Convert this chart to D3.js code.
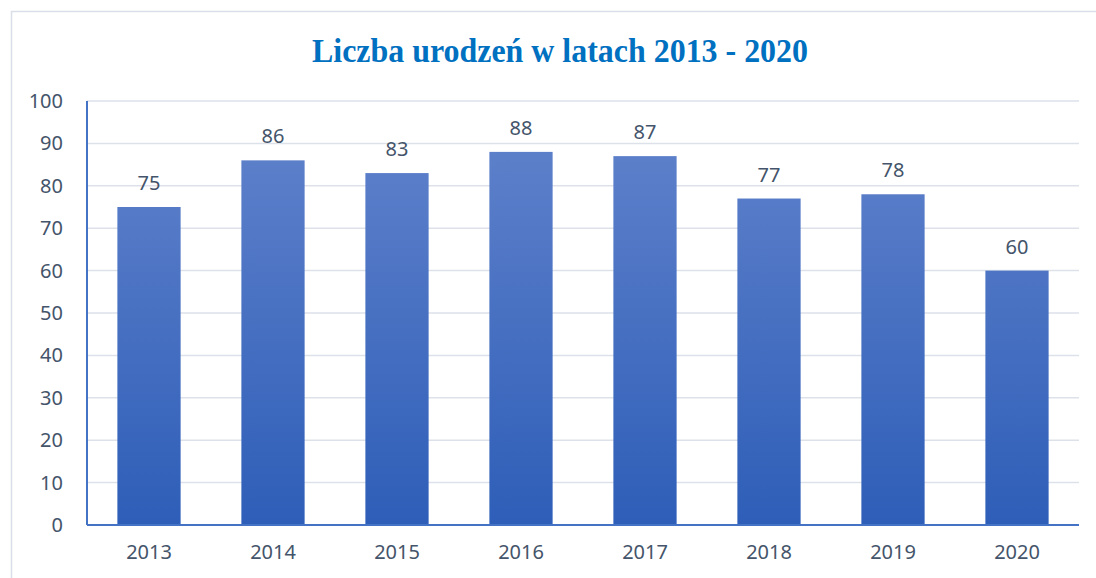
<!DOCTYPE html>
<head>
<meta charset="utf-8">
<script src="https://d3js.org/d3.v7.min.js"></script>
<style>
  body { margin: 0; background: #fff; }
  text { font-family: "Noto Sans", sans-serif; }
</style>
</head>
<body>
<div id="datavis"></div>

<script type="text/javascript">
    // data
    var years = ["2013", "2014", "2015", "2016", "2017", "2018", "2019", "2020"];
    var births = [75, 86, 83, 88, 87, 77, 78, 60];
    var yTicks = [0, 10, 20, 30, 40, 50, 60, 70, 80, 90, 100];
    var title = "Liczba urodzeń w latach 2013 - 2020";

    var W = 1096, H = 578;
    var margin = {top: 101, right: 17, bottom: 53, left: 87},
        width = W - margin.left - margin.right,
        height = H - margin.top - margin.bottom;

    var svgRoot = d3.select("#datavis")
                .append("svg")
                .attr("width", W)
                .attr("height", H);

    // outer chart border (right/bottom run past the picture)
    svgRoot.append("rect")
        .attr("x", 11.5).attr("y", 11.5)
        .attr("width", W + 20).attr("height", H + 20)
        .attr("fill", "none")
        .attr("stroke", "#d9dee8")
        .attr("stroke-width", 1.5);

    var defs = svgRoot.append("defs");
    var grad = defs.append("linearGradient")
        .attr("id", "barGrad")
        .attr("gradientUnits", "userSpaceOnUse")
        .attr("x1", 0).attr("x2", 0)
        .attr("y1", 0).attr("y2", height);
    grad.append("stop").attr("offset", "0%").attr("stop-color", "#6384cc");
    grad.append("stop").attr("offset", "100%").attr("stop-color", "#2e5eb8");

    // title
    svgRoot.append("text")
        .attr("x", 560)
        .attr("y", 62)
        .attr("text-anchor", "middle")
        .attr("textLength", 496)
        .attr("lengthAdjust", "spacingAndGlyphs")
        .style("font-family", "'Liberation Serif', 'Times New Roman', serif")
        .style("font-weight", "bold")
        .style("font-size", "33px")
        .style("fill", "#0070c0")
        .text(title);

    var svg = svgRoot.append("g")
        .attr("transform", "translate(" + margin.left + "," + margin.top + ")");

    var x = d3.scaleBand()
              .domain(years)
              .range([0, width])
              .paddingInner(0.49)
              .paddingOuter(0.245);

    var y = d3.scaleLinear()
              .domain([0, 100])
              .range([height, 0]);

    // gridlines
    svg.append("g")
       .selectAll("line")
       .data(yTicks.filter(function(d) { return d > 0; }))
       .enter().append("line")
       .attr("x1", 0).attr("x2", width)
       .attr("y1", function(d) { return y(d); })
       .attr("y2", function(d) { return y(d); })
       .attr("stroke", "#dde2ea")
       .attr("stroke-width", 1.5);

    // Y axis labels
    var yAxis = svg.append("g")
       .call(d3.axisLeft(y).tickValues(yTicks).tickSize(0).tickPadding(24));
    yAxis.select(".domain").remove();
    yAxis.selectAll("text")
       .style("font-family", "'Noto Sans', sans-serif")
       .style("font-size", "20px")
       .style("fill", "#44546a");

    // bars
    svg.selectAll(".bar")
       .data(births)
       .enter().append("rect")
       .attr("class", "bar")
       .attr("x", function(d, i) { return x(years[i]); })
       .attr("y", function(d) { return y(d); })
       .attr("width", x.bandwidth())
       .attr("height", function(d) { return height - y(d); })
       .attr("fill", "url(#barGrad)");

    // value labels
    svg.selectAll(".val")
       .data(births)
       .enter().append("text")
       .attr("class", "val")
       .attr("x", function(d, i) { return x(years[i]) + x.bandwidth() / 2; })
       .attr("y", function(d) { return y(d) - 17; })
       .attr("text-anchor", "middle")
       .style("font-size", "20px")
       .style("fill", "#44546a")
       .text(function(d) { return d; });

    // X axis
    var xAxis = svg.append("g")
       .attr("transform", "translate(0," + height + ")")
       .call(d3.axisBottom(x).tickSize(0).tickPadding(20));
    xAxis.select(".domain").remove();
    xAxis.selectAll("text")
       .style("font-family", "'Noto Sans', sans-serif")
       .style("font-size", "20px")
       .style("fill", "#44546a");

    // axis lines
    svg.append("line")
       .attr("x1", 0).attr("x2", 0)
       .attr("y1", 0).attr("y2", height)
       .attr("stroke", "#4472c4").attr("stroke-width", 2);
    svg.append("line")
       .attr("x1", 0).attr("x2", width)
       .attr("y1", height).attr("y2", height)
       .attr("stroke", "#4472c4").attr("stroke-width", 2);
</script>
</body>
